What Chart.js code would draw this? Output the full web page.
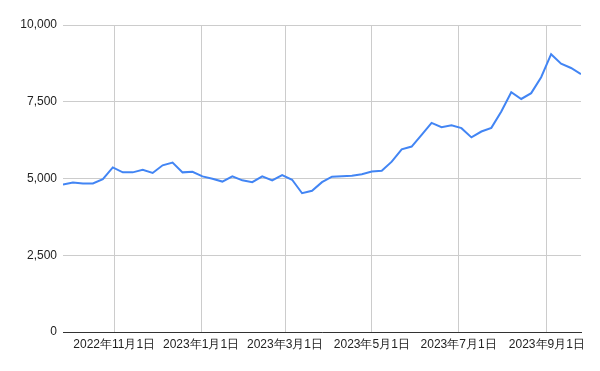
<!DOCTYPE html>
<html>
<head>
<meta charset="utf-8">
<script src="https://cdn.jsdelivr.net/npm/chart.js@4"></script>
<style>
  html,body{margin:0;padding:0;background:#fff;}
  #wrap{width:600px;height:371px;}
</style>
</head>
<body>
<div id="wrap"><canvas id="chart" width="600" height="371"></canvas></div>
<script>
const weeks=["2022-09-26","2022-10-03","2022-10-10","2022-10-17","2022-10-24","2022-10-31","2022-11-07","2022-11-14","2022-11-21","2022-11-28",
  "2022-12-05","2022-12-12","2022-12-19","2022-12-26","2023-01-02","2023-01-09","2023-01-16","2023-01-23","2023-01-30","2023-02-06",
  "2023-02-13","2023-02-20","2023-02-27","2023-03-06","2023-03-13","2023-03-20","2023-03-27","2023-04-03","2023-04-10","2023-04-17",
  "2023-04-24","2023-05-01","2023-05-08","2023-05-15","2023-05-22","2023-05-29","2023-06-05","2023-06-12","2023-06-19","2023-06-26",
  "2023-07-03","2023-07-10","2023-07-17","2023-07-24","2023-07-31","2023-08-07","2023-08-14","2023-08-21","2023-08-28","2023-09-04",
  "2023-09-11","2023-09-18","2023-09-25"];
const values=[4800,4870,4840,4840,4980,5360,5200,5200,5280,5180,
  5430,5520,5200,5220,5070,4990,4900,5070,4940,4880,
  5070,4940,5110,4960,4520,4600,4880,5060,5075,5090,
  5140,5230,5250,5550,5950,6040,6420,6810,6670,6730,
  6640,6340,6530,6650,7180,7810,7590,7780,8300,9050,
  8740,8600,8400];
const xTicks=["2022-11-01","2023-01-01","2023-03-01","2023-05-01","2023-07-01","2023-09-01"];
const yTicks=[0,2500,5000,7500,10000];

const DAY=86400000;
function toDay(s){
    const p=s.split("-");
    return Date.UTC(+p[0],+p[1]-1,+p[2])/DAY;
}
function fmtDay(d){
    const dt=new Date(d*DAY);
    return dt.getUTCFullYear()+"年"+(dt.getUTCMonth()+1)+"月"+dt.getUTCDate()+"日";
}

const points=weeks.map(function(w,i){ return {x:toDay(w),y:values[i]}; });
const font={family:"'Liberation Sans', Arial, sans-serif",size:12};

const ctx=document.getElementById("chart").getContext("2d");
const chart=new Chart(ctx,{
    type: "line",
    data: {
        datasets: [{
            data: points,
            borderColor: "#4285f4",
            borderWidth: 2,
            pointRadius: 0,
            tension: 0,
            fill: false,
        }],
    },
    options: {
        responsive: false,
        animation: false,
        layout: {
            padding: {top: 25, right: 19, bottom: 0, left: 0},
        },
        plugins: {
            legend: {display: false},
            tooltip: {enabled: false},
        },
        scales: {
            x: {
                type: "linear",
                min: toDay(weeks[0]),
                max: toDay(weeks[weeks.length-1]),
                afterBuildTicks: function(scale) {
                    scale.ticks=xTicks.map(function(t){ return {value:toDay(t)}; });
                },
                afterFit: function(scale) {
                    scale.height=39;
                },
                grid: {
                    color: "#cccccc",
                    drawTicks: false,
                },
                border: {
                    color: "#333333",
                    width: 1,
                },
                ticks: {
                    autoSkip: false,
                    maxRotation: 0,
                    padding: 5,
                    color: "#222222",
                    font: font,
                    callback: function(value) {
                        return fmtDay(value);
                    },
                },
            },
            y: {
                min: 0,
                max: 10000,
                afterBuildTicks: function(scale) {
                    scale.ticks=yTicks.map(function(v){ return {value:v}; });
                },
                afterFit: function(scale) {
                    scale.width=63;
                },
                grid: {
                    color: "#cccccc",
                    drawTicks: false,
                },
                border: {display: false},
                ticks: {
                    padding: 6,
                    color: "#222222",
                    font: font,
                    callback: function(value) {
                        return value.toLocaleString("en-US");
                    },
                },
            },
        },
    },
});
</script>
</body>
</html>
